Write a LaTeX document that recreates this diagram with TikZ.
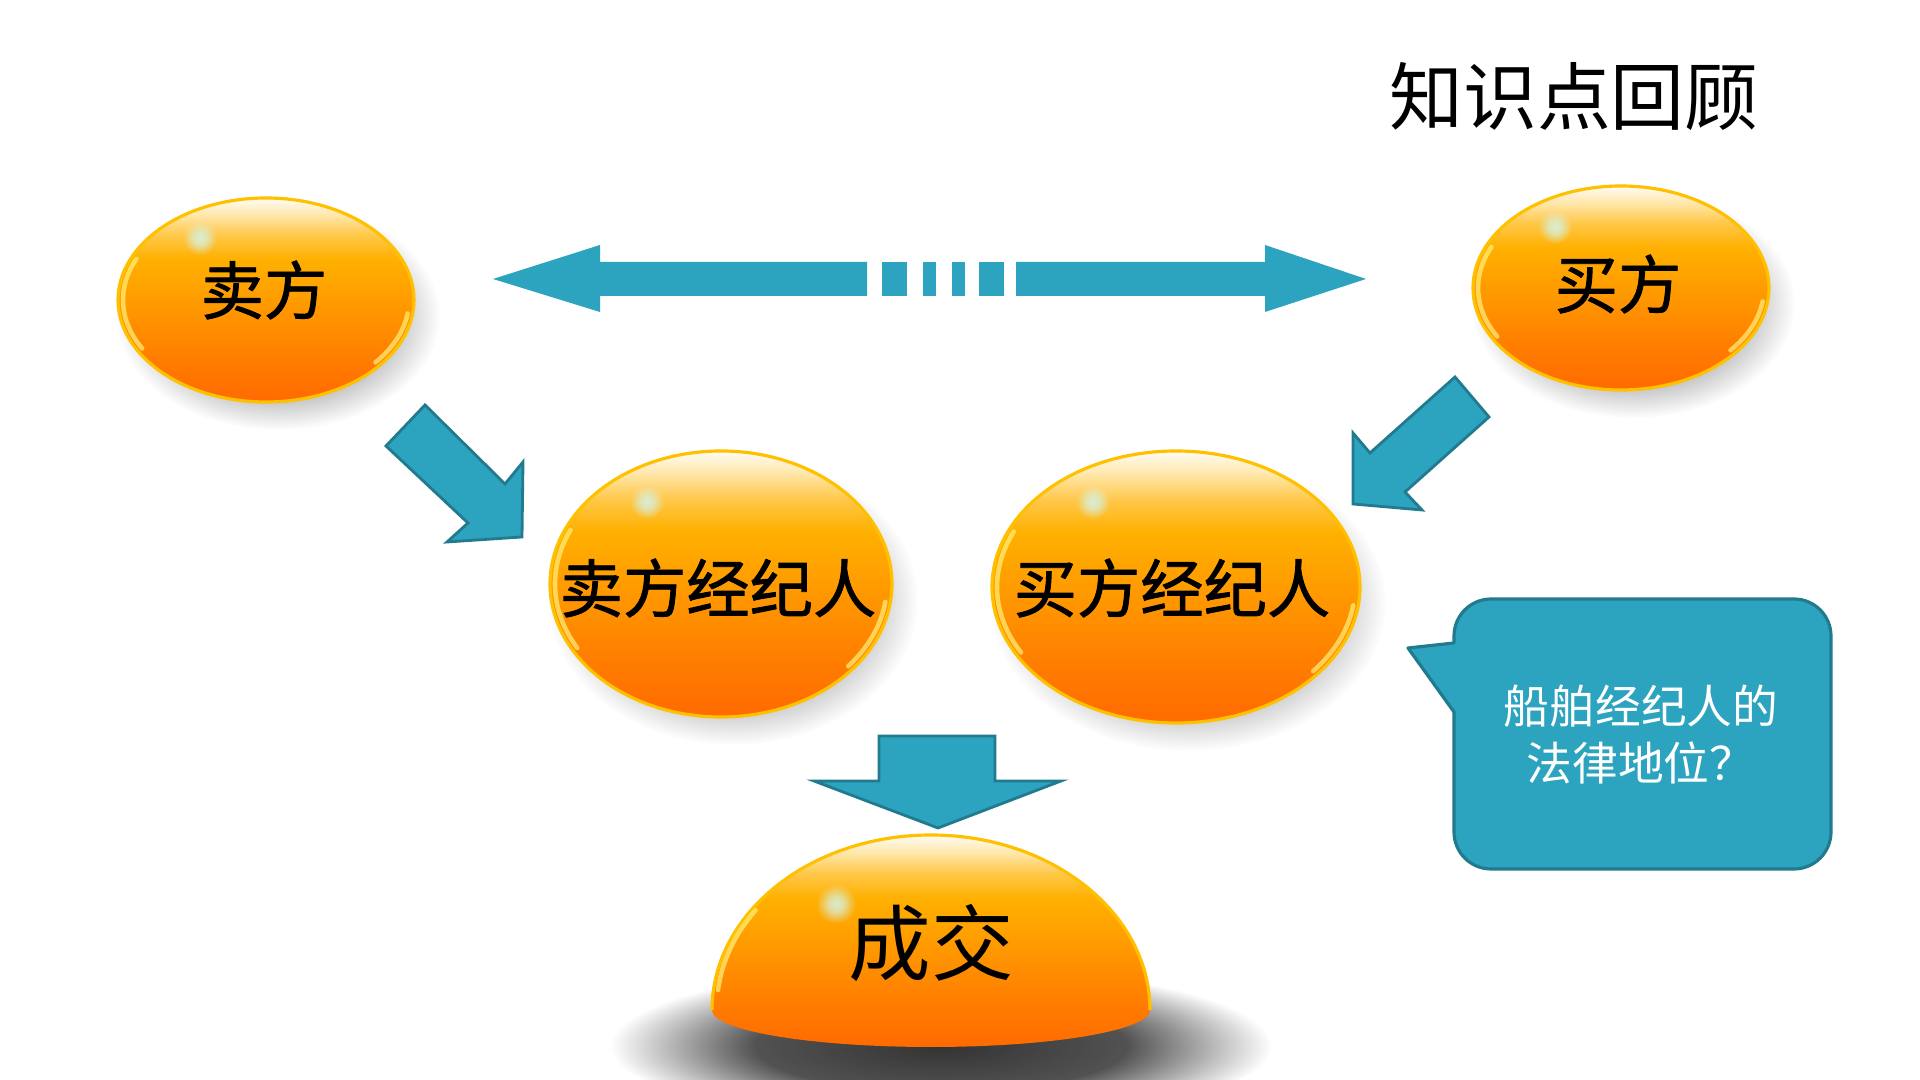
\documentclass[tikz,border=0pt]{standalone}
\usepackage{fontspec}
\setmainfont{Noto Sans CJK SC}
\newfontfamily\cjkthick[FakeBold=1.3]{Noto Sans CJK SC}
\usetikzlibrary{fadings}

\definecolor{arrowblue}{HTML}{2CA3BF}
\definecolor{arrowedge}{HTML}{217A8E}
\definecolor{rimgold}{HTML}{FFC000}
\definecolor{rimlight}{HTML}{FFF27A}
\definecolor{spotcol}{HTML}{D6F2E4}
\definecolor{orD}{HTML}{FF6A00}
\definecolor{orA}{HTML}{FF7E00}
\definecolor{orB}{HTML}{FF9C00}
\definecolor{orC}{HTML}{FFB000}
\definecolor{orE}{HTML}{FFC84A}
\definecolor{orF}{HTML}{FFE8AE}
\definecolor{orT}{HTML}{FFFCF4}

% 球体的光泽渐变
\pgfdeclareverticalshading{orangegloss}{100bp}{color(0bp)=(orD); color(25bp)=(orD);
  color(36bp)=(orA); color(50bp)=(orB); color(60bp)=(orC); color(66bp)=(orE);
  color(71bp)=(orF); color(75bp)=(orT); color(100bp)=(orT)}
% 柔和阴影与高光
\pgfdeclareradialshading{softshadowshade}{\pgfpointorigin}{color(0bp)=(pgftransparent!0);
  color(14bp)=(pgftransparent!15); color(25bp)=(pgftransparent!100); color(50bp)=(pgftransparent!100)}
\pgfdeclarefading{softshadow}{\pgfuseshading{softshadowshade}}
\pgfdeclareradialshading{softspotshade}{\pgfpointorigin}{color(0bp)=(pgftransparent!0);
  color(10bp)=(pgftransparent!25); color(25bp)=(pgftransparent!100); color(50bp)=(pgftransparent!100)}
\pgfdeclarefading{softspot}{\pgfuseshading{softspotshade}}

\tikzset{
  ball/.style={shade, shading=orangegloss, draw=rimgold, line width=0.9pt},
  ballshadow/.style={fill=black, opacity=0.44, path fading=softshadow},
  glossspot/.style={fill=spotcol, opacity=0.9, path fading=softspot},
  rimshine/.style={draw=rimlight, line width=1.3pt, opacity=0.7, line cap=round},
  balltext/.style={font=\fontsize{18}{20}\selectfont\cjkthick, text=black, inner sep=0pt},
  blockarrow/.style={fill=arrowblue, draw=arrowedge, line width=0.8pt, line join=miter},
  callout/.style={fill=arrowblue, draw=arrowedge, line width=0.9pt, line join=round}
}

\begin{document}
\begin{tikzpicture}[x=0.01cm, y=-0.01cm, line join=round]
	\useasboundingbox[fill=white] (0,0) rectangle (1920,1080);
	% 各球体中心
	\path (266,300) coordinate (seller_c)
	(1621,288) coordinate (buyer_c)
	(721,584) coordinate (sagent_c)
	(1176,587) coordinate (bagent_c)
	(931,1010) coordinate (deal_c);
	% 阴影
	\foreach \c/\rx/\ry in {seller_c/148/102, buyer_c/148/102, sagent_c/171/133, bagent_c/184/136}
	\fill[ballshadow] ([shift={(12,16)}]\c) ellipse [x radius=\rx+14, y radius=\ry+12];
	\fill[ballshadow, opacity=0.8] ([shift={(10,36)}]deal_c) ellipse [x radius=330, y radius=80];
	% 球体
	\foreach \c/\rx/\ry in {seller_c/148/102, buyer_c/148/102, sagent_c/171/133, bagent_c/184/136}
	\path[ball] (\c) ellipse [x radius=\rx, y radius=\ry];
	% 成交半球
	\path[ball, draw=none] (712,1010) arc [start angle=180, end angle=360, x radius=219, y radius=175]
	arc [start angle=0, end angle=180, x radius=219, y radius=37] -- cycle;
	\draw[rimgold, line width=0.9pt] (712,1010) arc [start angle=180, end angle=360, x radius=219, y radius=175];
	% 高光点与边缘反光
	\foreach \c/\rx/\ry/\dx/\dy in {seller_c/148/102/-66/-62, buyer_c/148/102/-66/-61,
	sagent_c/171/133/-74/-82, bagent_c/184/136/-83/-85}{
		\pgfmathsetmacro\ix{\rx-5}
		\pgfmathsetmacro\iy{\ry-5}
		\fill[glossspot] ([shift={(\dx,\dy)}]\c) circle (17);
		\draw[rimshine] ([shift={(150:{\ix} and {\iy})}]\c) arc [start angle=150, end angle=205, x radius=\ix, y radius=\iy];
		\draw[rimshine] ([shift={(8:{\ix} and {\iy})}]\c) arc [start angle=8, end angle=40, x radius=\ix, y radius=\iy];
	}
	\fill[glossspot] (836,904) circle (20);
	\draw[rimshine] (718,990) arc [start angle=186, end angle=215, x radius=214, y radius=170];
	% 文字
	\node[balltext] (seller) at (264,290) {卖方};
	\node[balltext] (buyer) at (1618,284) {买方};
	\node[balltext] (seller_agent) at (718,588) {卖方经纪人};
	\node[balltext] (buyer_agent) at (1172,588) {买方经纪人};
	\node[font=\fontsize{23.5}{26}\selectfont, inner sep=0pt] (deal) at (931,943) {成交};
	% 双向箭头（中间断开）
	\fill[arrowblue] (493,279) -- (600,245) -- (600,262) -- (867,262) -- (867,296) -- (600,296) -- (600,312) -- cycle;
	\foreach \a/\b in {882/907, 923/936, 952/965, 979/1004}
	\fill[arrowblue] (\a,262) rectangle (\b,296);
	\fill[arrowblue] (1016,262) -- (1265,262) -- (1265,245) -- (1366,279) -- (1265,312) -- (1265,296) -- (1016,296) -- cycle;
	% 指向经纪人的箭头
	\draw[blockarrow] (425,405) -- (505,484) -- (523,462) -- (522,537) -- (447,542) -- (468,523) -- (386,446) -- cycle;
	\draw[blockarrow] (1455,377) -- (1489,417) -- (1405,492) -- (1422,510) -- (1353,504) -- (1353,433) -- (1370,453) -- cycle;
	\draw[blockarrow] (879,736) -- (995,736) -- (995,781) -- (1061,781) -- (938,828) -- (814,781) -- (879,781) -- cycle;
	% 对话框
	\draw[callout] (1408,648) -- (1454,712) {[rounded corners=0.37cm] -- (1454,869) -- (1831,869) -- (1831,599) -- (1454,599)}
	-- (1454,643) -- cycle;
	\node[align=center, text=white, font=\fontsize{13}{16.2}\selectfont, inner sep=0pt] (question) at (1641,735)
	{船舶经纪人的\\法律地位？};
	% 标题
	\node[font=\fontsize{21}{24}\selectfont, inner sep=0pt] (title) at (1574,97) {知识点回顾};
\end{tikzpicture}
\end{document}
